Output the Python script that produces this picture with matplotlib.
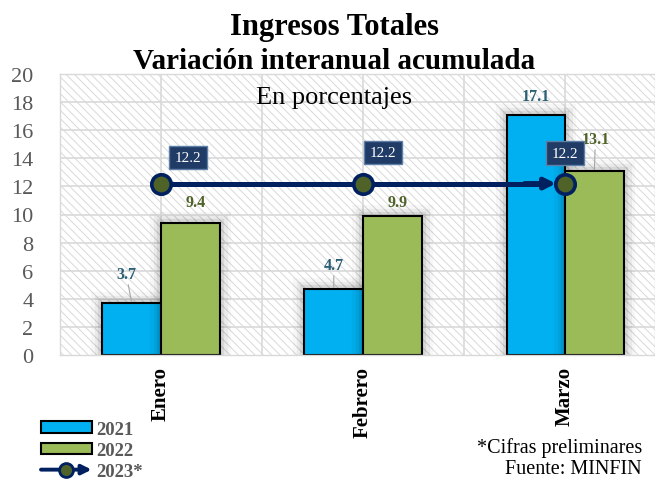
import matplotlib
matplotlib.use("Agg")
import matplotlib.pyplot as plt
import matplotlib.patheffects as pe
from matplotlib.patches import Rectangle, Patch, FancyArrowPatch
from matplotlib.lines import Line2D
from matplotlib.legend_handler import HandlerBase

# ---------------- data ----------------
months = ["Enero", "Febrero", "Marzo"]
v2021 = [3.7, 4.7, 17.1]
v2022 = [9.4, 9.9, 13.1]
v2023 = [12.2, 12.2, 12.2]
series_names = ["2021", "2022", "2023*"]
yticks = [0, 2, 4, 6, 8, 10, 12, 14, 16, 18, 20]

# ---------------- style ----------------
plt.rcParams["font.family"] = ["Liberation Serif", "DejaVu Serif"]
plt.rcParams["hatch.linewidth"] = 0.7

C21 = "#00B0F0"
C22 = "#9BBB59"
NAVY = "#002060"
OLIVE = "#4F6228"
TEAL = "#2B5F75"
GRAY = "#595959"

W, H = 655, 481
fig = plt.figure(figsize=(W / 100, H / 100), dpi=100)
ax = fig.add_axes([60 / W, 1 - 356 / H, (655 - 60) / W, (356 - 75) / H])

ax.set_xlim(-0.5, 2.445)
ax.set_ylim(0, 20)

# background hatch
bg = Rectangle((0, 0), 1, 1, transform=ax.transAxes, facecolor="white",
               edgecolor="#d9d9d9", linewidth=0, hatch="\\\\\\\\", zorder=0)
ax.add_patch(bg)

# grid
for y in yticks[1:]:
    ax.axhline(y, color="#d9d9d9", lw=1.2, zorder=0.5)
for xg in [0, 0.5, 1, 1.5, 2]:
    ax.axvline(xg, color="#d9d9d9", lw=1.2, zorder=0.5)

x = list(range(len(months)))
bw = 0.29
glow = [pe.Stroke(linewidth=16, foreground="k", alpha=0.03),
        pe.Stroke(linewidth=11, foreground="k", alpha=0.05),
        pe.Stroke(linewidth=6, foreground="k", alpha=0.08),
        pe.Normal()]
b1 = ax.bar([i - bw / 2 for i in x], v2021, width=bw, color=C21,
            edgecolor="black", linewidth=1.5, zorder=2)
b2 = ax.bar([i + bw / 2 for i in x], v2022, width=bw, color=C22,
            edgecolor="black", linewidth=1.5, zorder=2)
for r in list(b1) + list(b2):
    r.set_path_effects(glow)

# data labels (offsets in pixels -> points)
pt = 0.72
off21 = [(-5.5, 29, True), (0, 24, True), (0, 19, False)]
off22 = [(5.5, 21, False), (5, 14, False), (1, 32, True)]
for i, v in enumerate(v2021):
    dx, dy, lead = off21[i]
    ax.annotate(f"{v:.1f}", (i - bw / 2, v), xytext=(dx * pt, dy * pt),
                textcoords="offset points", ha="center", va="center",
                fontsize=11.5, weight="bold", color=TEAL, zorder=6,
                arrowprops=dict(arrowstyle="-", color="#a6a6a6", lw=0.8,
                                shrinkA=0, shrinkB=1) if lead else None)
for i, v in enumerate(v2022):
    dx, dy, lead = off22[i]
    ax.annotate(f"{v:.1f}", (i + bw / 2, v), xytext=(dx * pt, dy * pt),
                textcoords="offset points", ha="center", va="center",
                fontsize=11.5, weight="bold", color=OLIVE, zorder=6,
                arrowprops=dict(arrowstyle="-", color="#a6a6a6", lw=0.8,
                                shrinkA=0, shrinkB=1) if lead else None)

# 2023 line with arrow
ax.plot(x[:-1] + [x[-1] - 0.08], v2023, color=NAVY, lw=3.6, zorder=4,
        solid_capstyle="butt")
ax.annotate("", xy=(x[-1] - 0.045, v2023[-1]), xytext=(x[-1] - 0.2, v2023[-1]),
            arrowprops=dict(arrowstyle="-|>", color=NAVY, lw=3.6,
                            mutation_scale=16, shrinkA=0, shrinkB=0), zorder=4)
ax.plot(x, v2023, linestyle="none", marker="o", markersize=14,
        markerfacecolor=OLIVE, markeredgecolor=NAVY, markeredgewidth=2.6,
        zorder=5)

box_off = [(27, 26), (20, 31), (0, 30.5)]
for i, v in enumerate(v2023):
    dx, dy = box_off[i]
    ax.annotate(f"{v:.1f}", (i, v), xytext=(dx * pt, dy * pt),
                textcoords="offset points", ha="center", va="center",
                fontsize=11, color="white", zorder=7,
                bbox=dict(boxstyle="square,pad=0.35", facecolor="#1F3B66",
                          edgecolor="#5D7FA8", linewidth=1.0))

# axes formatting
ax.set_yticks(yticks)
ax.set_yticklabels([str(t) for t in yticks], fontsize=16, color=GRAY)
ax.set_xticks(x)
ax.set_xticklabels(months, rotation=90, fontsize=15, weight="bold",
                   va="top", ha="center")
ax.tick_params(axis="y", length=0, pad=19)
ax.tick_params(axis="x", length=0, pad=8)
for s in ax.spines.values():
    s.set_color("#d9d9d9")
    s.set_linewidth(1)

# titles
fig.text(334 / W, 1 - 35 / H, "Ingresos Totales", ha="center", va="baseline",
         fontsize=22, weight="bold")
fig.text(334 / W, 1 - 69 / H, "Variación interanual acumulada", ha="center",
         va="baseline", fontsize=21, weight="bold")
ax.text(334 / W, 1 - 104 / H, "En porcentajes", transform=fig.transFigure,
        ha="center", va="baseline", fontsize=19, zorder=8)

# notes
fig.text(642 / W, 1 - 448 / H, "*Cifras preliminares", ha="right",
         va="center", fontsize=14.5)
fig.text(642 / W, 1 - 470 / H, "Fuente: MINFIN", ha="right", va="center",
         fontsize=14.5)


# legend
class HandlerArrowLine(HandlerBase):
    def create_artists(self, legend, orig_handle, xdescent, ydescent,
                       width, height, fontsize, trans):
        y = height / 2 - ydescent
        arr = FancyArrowPatch((-xdescent, y), (width - xdescent, y),
                              arrowstyle="-|>", mutation_scale=14,
                              color=NAVY, lw=2.8, shrinkA=0, shrinkB=0,
                              transform=trans)
        mk = Line2D([width / 2 - xdescent], [y], linestyle="none",
                    marker="o", markersize=10, markerfacecolor=OLIVE,
                    markeredgecolor=NAVY, markeredgewidth=2,
                    transform=trans)
        return [arr, mk]


handles = [Patch(facecolor=C21, edgecolor="black", linewidth=1.5),
           Patch(facecolor=C22, edgecolor="black", linewidth=1.5),
           Line2D([], [], color=NAVY)]
leg = fig.legend(handles, series_names, loc="upper left",
                 bbox_to_anchor=(41 / W, 1 - 422 / H), frameon=False,
                 borderpad=0, borderaxespad=0, handlelength=2.7,
                 handleheight=0.6, handletextpad=0.25, labelspacing=0.22,
                 prop=dict(size=13.5, weight="bold"),
                 handler_map={Line2D: HandlerArrowLine()})
for t in leg.get_texts():
    t.set_color(GRAY)

fig.savefig("out.png", dpi=100)
